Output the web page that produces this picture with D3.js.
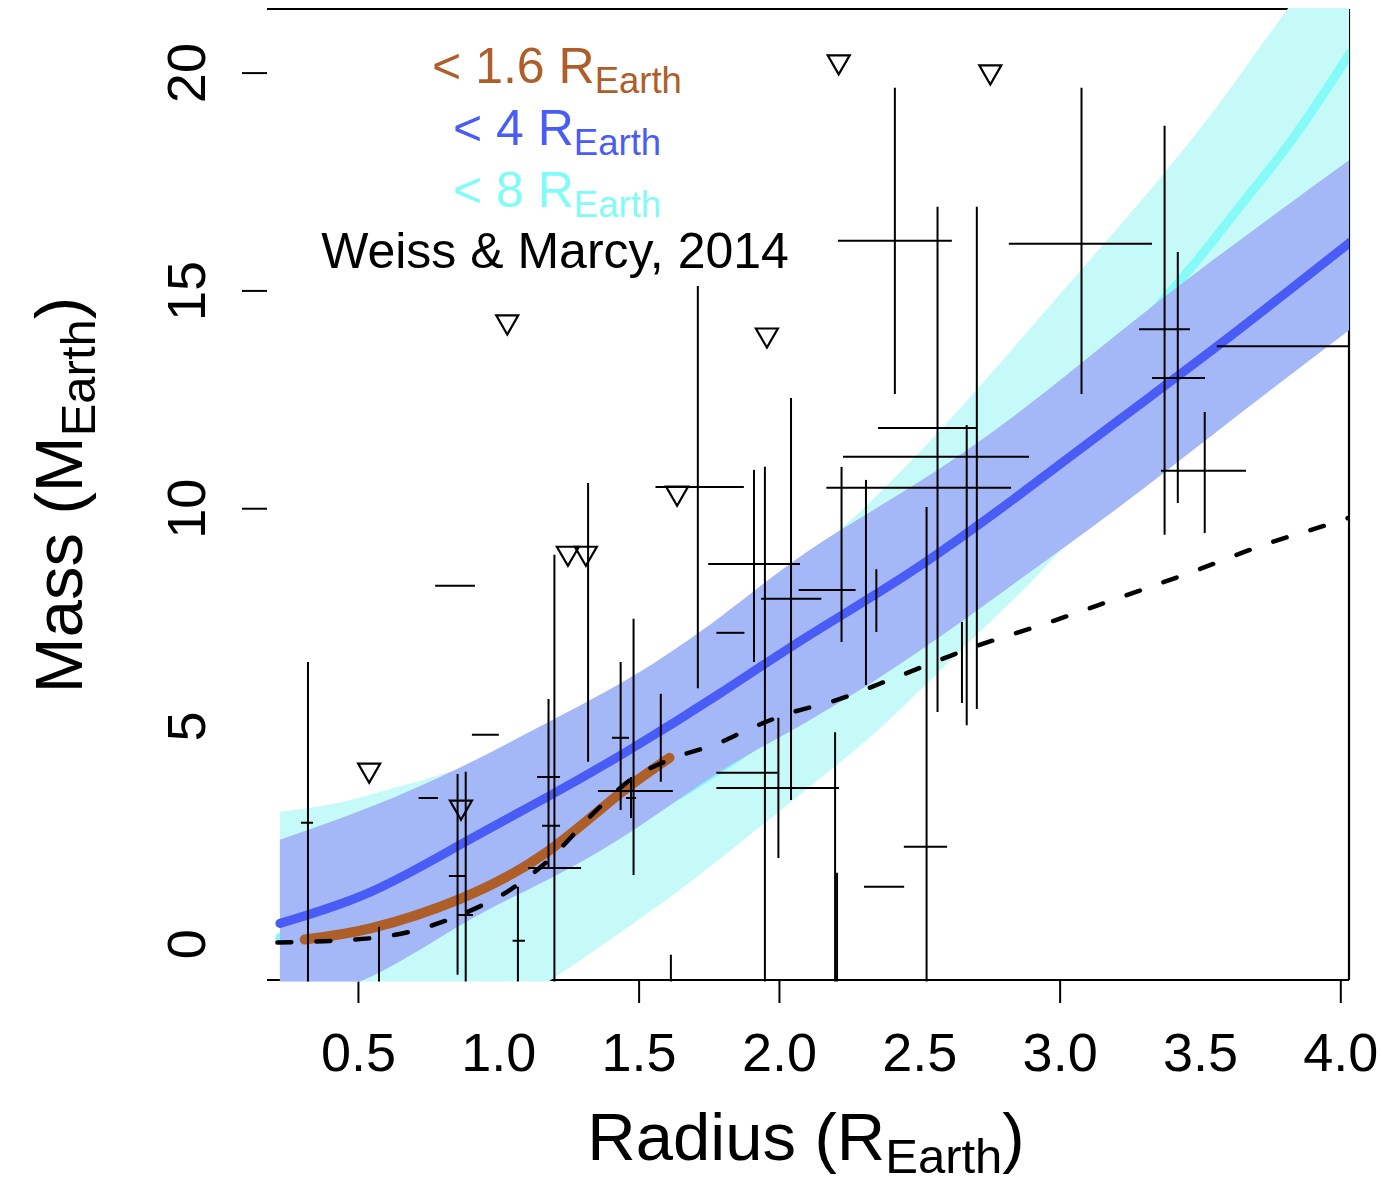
<!DOCTYPE html>
<html>
<head>
<meta charset="utf-8">
<script src="https://cdn.jsdelivr.net/npm/d3@7"></script>
<style>
  body { margin: 0; background: #fff; }
  svg { display: block; }
  text { font-family: "Liberation Sans", Arial, Helvetica, sans-serif; }
</style>
</head>
<body>
<svg id="chart" width="1382" height="1182"></svg>
<script>
//-------- data --------

// tick labels
var xTicks = [0.5, 1.0, 1.5, 2.0, 2.5, 3.0, 3.5, 4.0];
var xTickMarks = [0.5, 1.5, 2.0, 3.0, 4.0];
var yTicks = [0, 5, 10, 15, 20];
var yTickMarks = [10, 15, 20];

// < 4 R_Earth fit and its band
var blueR     = [0.222, 0.548, 0.871, 1.169, 1.467, 1.79, 2.1, 2.461, 2.834, 3.206, 3.578, 4.034];
var blueFit   = [0.47, 1.2, 2.3, 3.35, 4.45, 5.75, 7.05, 8.5, 10.2, 12.0, 13.8, 16.1];
var blueUpper = [2.39, 3.15, 4.07, 5.06, 6.1, 7.5, 9.0, 10.45, 12.1, 14.0, 15.85, 18.0];
var blueLower = [-1.45, -0.75, 0.45, 1.45, 2.55, 3.95, 5.1, 6.55, 8.25, 10.0, 11.85, 14.1];

// < 8 R_Earth fit and its band
var cyanBandR = [0.222, 0.424, 0.648, 1.0, 1.363, 1.7, 2.089, 2.369, 2.673, 2.983, 3.293, 3.578, 3.814, 4.035];
var cyanUpper = [3.03, 3.23, 3.61, 4.3, 5.3, 6.8, 8.8, 10.42, 12.49, 14.78, 17.08, 19.37, 21.48, 23.3];
var cyanLower = [-2.8, -2.6, -2.2, -1.5, -0.06, 1.5, 3.5, 5.0, 6.9, 8.9, 11.4, 13.7, 15.8, 17.6];
var cyanR     = [0.222, 0.5, 1.0, 1.5, 2.0, 2.5, 3.0, 3.442, 3.641, 3.827, 4.035];
var cyanFit   = [0.15, 0.6, 1.45, 2.9, 5.0, 8.2, 12.0, 15.32, 16.92, 18.45, 20.45];

// < 1.6 R_Earth fit
var brownR   = [0.31, 0.548, 0.871, 1.169, 1.417, 1.61];
var brownFit = [0.1, 0.36, 1.05, 2.09, 3.37, 4.27];

// Weiss & Marcy 2014 relation (dashed)
var wmR = [0.213, 0.548, 0.871, 1.045, 1.169, 1.355, 1.467, 1.62, 1.79, 1.9, 2.04, 2.188, 2.437, 2.697, 2.958, 3.219, 3.473, 3.728, 3.988, 4.03];
var wmM = [0.03, 0.13, 0.68, 1.25, 1.86, 3.1, 3.75, 4.25, 4.62, 4.95, 5.3, 5.56, 6.17, 6.82, 7.37, 7.96, 8.54, 9.16, 9.69, 9.78];

// planets: [radius, mass, radius lo, radius hi, mass lo, mass hi]
var planets = [
  [0.322, 2.78, 0.297, 0.340, -3, 6.47],
  [0.575, -1.5, 0.575, 0.575, -3, 0.39],
  [0.846, 8.22, 0.775, 0.917, 8.22, 8.22],
  [0.954, 4.80, 0.906, 1.002, 4.80, 4.80],
  [0.750, 3.35, 0.716, 0.785, 3.35, 3.35],
  [0.855, 1.56, 0.824, 0.885, -0.71, 3.90],
  [0.884, 0.66, 0.856, 0.910, -3, 3.95],
  [1.070, 0.07, 1.051, 1.095, -3, 1.31],
  [1.179, 3.83, 1.138, 1.220, 1.74, 5.62],
  [1.184, 2.71, 1.156, 1.220, 2.71, 2.71],
  [1.200, 1.74, 1.106, 1.295, -3, 8.93],
  [1.320, 7.40, 1.320, 1.320, 4.18, 10.58],
  [1.436, 4.73, 1.405, 1.466, 3.07, 6.47],
  [1.482, 3.51, 1.355, 1.622, 1.58, 7.46],
  [1.473, 3.35, 1.455, 1.491, 2.89, 3.83],
  [1.579, 4.70, 1.579, 1.579, 3.72, 5.74],
  [1.615, -1.5, 1.615, 1.615, -3, -0.25],
  [1.711, 10.49, 1.560, 1.875, 5.87, 15.10],
  [1.827, 7.14, 1.777, 1.877, 7.14, 7.14],
  [1.911, 8.72, 1.748, 2.075, 6.47, 10.88],
  [1.950, 3.93, 1.777, 1.995, -3, 10.95],
  [1.998, 3.58, 1.777, 2.214, 1.97, 5.19],
  [2.043, 7.92, 1.936, 2.151, 3.30, 12.53],
  [2.223, 8.12, 2.070, 2.273, 6.93, 10.95],
  [2.200, 0.5, 2.200, 2.200, -3, 4.86],
  [2.207, -0.5, 2.207, 2.207, -3, 1.63],
  [2.310, 10.47, 2.169, 2.827, 5.94, 10.65],
  [2.374, 1.31, 2.303, 2.446, 1.31, 1.31],
  [2.347, 7.9, 2.347, 2.347, 7.16, 8.60],
  [2.413, 16.14, 2.210, 2.616, 12.62, 19.65],
  [2.526, 2.23, 2.445, 2.599, -3, 10.03],
  [2.565, 11.18, 2.228, 2.891, 5.32, 16.92],
  [2.652, 6.4, 2.652, 2.652, 5.53, 7.39],
  [2.669, 11.84, 2.353, 2.705, 5.02, 11.91],
  [2.705, 11.1, 2.705, 2.705, 5.39, 16.92],
  [3.078, 16.07, 2.819, 3.329, 12.62, 19.65],
  [3.374, 14.11, 3.283, 3.464, 9.39, 18.78],
  [3.421, 12.99, 3.329, 3.518, 10.12, 15.88],
  [3.517, 10.86, 3.361, 3.664, 9.43, 12.21],
  [3.850, 13.72, 3.560, 4.150, 13.72, 13.72]
];

// mass upper limits: [radius, mass]
var upperLimits = [
  [0.540, 3.99], [0.867, 3.14], [1.032, 14.28], [1.248, 8.97], [1.312, 8.97],
  [1.637, 10.35], [1.957, 13.98], [2.213, 20.25], [2.753, 20.02]
];

var legendLabels = ["< 1.6 R", "< 4 R", "< 8 R"];
var legendColors = ["#ae5e28", "#4a5cf6", "#80fbf7"];

//-------- set up svg and scales --------
var plot = { left: 267, right: 1349, top: 9, bottom: 980 };

var svg = d3.select('#chart');

var x = d3.scaleLinear().domain([0.176, 4.031]).range([plot.left, plot.right]);
var y = d3.scaleLinear().domain([-0.83, 21.46]).range([plot.bottom, plot.top]);

svg.append('defs').append('clipPath').attr('id', 'plotclip')
  .append('rect').attr('x', plot.left).attr('y', plot.top - 1)
  .attr('width', plot.right - plot.left).attr('height', plot.bottom - plot.top + 2.5);

// box (the bands paint over part of it)
var box = svg.append('g').attr('stroke', '#000').attr('stroke-width', 2.2).attr('fill', 'none');
box.append('line').attr('x1', plot.left).attr('x2', plot.right).attr('y1', plot.top).attr('y2', plot.top);
box.append('line').attr('x1', plot.right).attr('x2', plot.right).attr('y1', plot.top).attr('y2', plot.bottom);
box.append('line').attr('x1', plot.left).attr('x2', plot.right).attr('y1', plot.bottom).attr('y2', plot.bottom);

//-------- axes --------
var xLab = svg.append('g').attr('transform', 'translate(0,' + plot.bottom + ')')
  .call(d3.axisBottom(x).tickValues(xTicks).tickSize(0).tickFormat(d3.format('.1f')));
xLab.select('.domain').remove();
xLab.selectAll('text').attr('y', 91).attr('dy', null)
  .attr('font-size', 54).attr('fill', '#000').attr('font-family', '"Liberation Sans", Arial, sans-serif');

var xMarks = svg.append('g').attr('transform', 'translate(0,' + plot.bottom + ')')
  .call(d3.axisBottom(x).tickValues(xTickMarks).tickSize(23).tickFormat(''));
xMarks.select('.domain').remove();
xMarks.selectAll('line').attr('stroke', '#000').attr('stroke-width', 2);

var yLab = svg.append('g').attr('transform', 'translate(' + plot.left + ',0)')
  .call(d3.axisLeft(y).tickValues(yTicks).tickSize(0).tickFormat(d3.format('d')));
yLab.select('.domain').remove();
yLab.selectAll('text').attr('x', null).attr('dy', null).attr('text-anchor', 'middle')
  .attr('transform', 'translate(-62,0) rotate(-90)')
  .attr('font-size', 54).attr('fill', '#000').attr('font-family', '"Liberation Sans", Arial, sans-serif');

var yMarks = svg.append('g').attr('transform', 'translate(' + plot.left + ',0)')
  .call(d3.axisLeft(y).tickValues(yTickMarks).tickSize(25).tickFormat(''));
yMarks.select('.domain').remove();
yMarks.selectAll('line').attr('stroke', '#000').attr('stroke-width', 2);

//-------- fits and bands --------
var layer = svg.append('g').attr('clip-path', 'url(#plotclip)');

var zip = function (a, b, c) { return a.map(function (d, i) { return [d, b[i], c ? c[i] : null]; }); };

var band = d3.area().x(function (d) { return x(d[0]); })
  .y0(function (d) { return y(d[2]); }).y1(function (d) { return y(d[1]); })
  .curve(d3.curveNatural);
var fitLine = d3.line().x(function (d) { return x(d[0]); }).y(function (d) { return y(d[1]); })
  .curve(d3.curveNatural);
var wmLine = d3.line().x(function (d) { return x(d[0]); }).y(function (d) { return y(d[1]); })
  .curve(d3.curveMonotoneX);

layer.append('path').attr('d', band(zip(cyanBandR, cyanUpper, cyanLower))).attr('fill', '#c5faf8');
layer.append('path').attr('d', fitLine(zip(cyanR, cyanFit))).attr('fill', 'none')
  .attr('stroke', '#85faf6').attr('stroke-width', 9).attr('stroke-linecap', 'round');

layer.append('path').attr('d', band(zip(blueR, blueUpper, blueLower))).attr('fill', '#a4b8f8');
layer.append('path').attr('d', fitLine(zip(blueR, blueFit))).attr('fill', 'none')
  .attr('stroke', '#4a5cf6').attr('stroke-width', 9).attr('stroke-linecap', 'round');

layer.append('path').attr('d', fitLine(zip(brownR, brownFit))).attr('fill', 'none')
  .attr('stroke', '#ae5e28').attr('stroke-width', 10).attr('stroke-linecap', 'round');

layer.append('path').attr('d', wmLine(zip(wmR, wmM))).attr('fill', 'none')
  .attr('stroke', '#000').attr('stroke-width', 4.5).attr('stroke-linecap', 'round')
  .attr('stroke-dasharray', '14,25');

//-------- planets with error bars --------
var bars = layer.append('g').attr('stroke', '#000').attr('stroke-width', 2);
bars.selectAll('.vbar').data(planets.filter(function (d) { return d[5] > d[4]; }))
  .enter().append('line').attr('class', 'vbar')
  .attr('x1', function (d) { return x(d[0]); }).attr('x2', function (d) { return x(d[0]); })
  .attr('y1', function (d) { return y(d[4]); }).attr('y2', function (d) { return y(d[5]); });
bars.selectAll('.hbar').data(planets.filter(function (d) { return d[3] > d[2]; }))
  .enter().append('line').attr('class', 'hbar')
  .attr('x1', function (d) { return x(d[2]); }).attr('x2', function (d) { return x(d[3]); })
  .attr('y1', function (d) { return y(d[1]); }).attr('y2', function (d) { return y(d[1]); });

// upper limits as open down-pointing triangles
var tri = d3.symbol().type(d3.symbolTriangle).size(210);
layer.selectAll('.limit').data(upperLimits).enter().append('path').attr('class', 'limit')
  .attr('d', tri)
  .attr('transform', function (d) { return 'translate(' + x(d[0]) + ',' + y(d[1]) + ') rotate(180)'; })
  .attr('fill', 'none').attr('stroke', '#000').attr('stroke-width', 2.2);

//-------- legend text --------
var legend = svg.append('g').attr('font-size', 50).attr('text-anchor', 'middle');
legendLabels.forEach(function (lab, i) {
  var t = legend.append('text').attr('x', 557).attr('y', 83 + i * 62).attr('fill', legendColors[i]);
  t.append('tspan').text(lab);
  t.append('tspan').attr('font-size', 36.5).attr('dy', 10).text('Earth');
});
legend.append('text').attr('x', 555).attr('y', 268).attr('fill', '#000').text('Weiss & Marcy, 2014');

//-------- axis titles --------
var xt = svg.append('text').attr('x', 806).attr('y', 1160).attr('text-anchor', 'middle')
  .attr('font-size', 67).attr('fill', '#000');
xt.append('tspan').text('Radius (R');
xt.append('tspan').attr('font-size', 49).attr('dy', 13).text('Earth');
xt.append('tspan').attr('dy', -13).text(')');

var yt = svg.append('text').attr('transform', 'translate(82,495) rotate(-90)').attr('text-anchor', 'middle')
  .attr('font-size', 67).attr('fill', '#000');
yt.append('tspan').text('Mass (M');
yt.append('tspan').attr('font-size', 49).attr('dy', 13).text('Earth');
yt.append('tspan').attr('dy', -13).text(')');
</script>
</body>
</html>
